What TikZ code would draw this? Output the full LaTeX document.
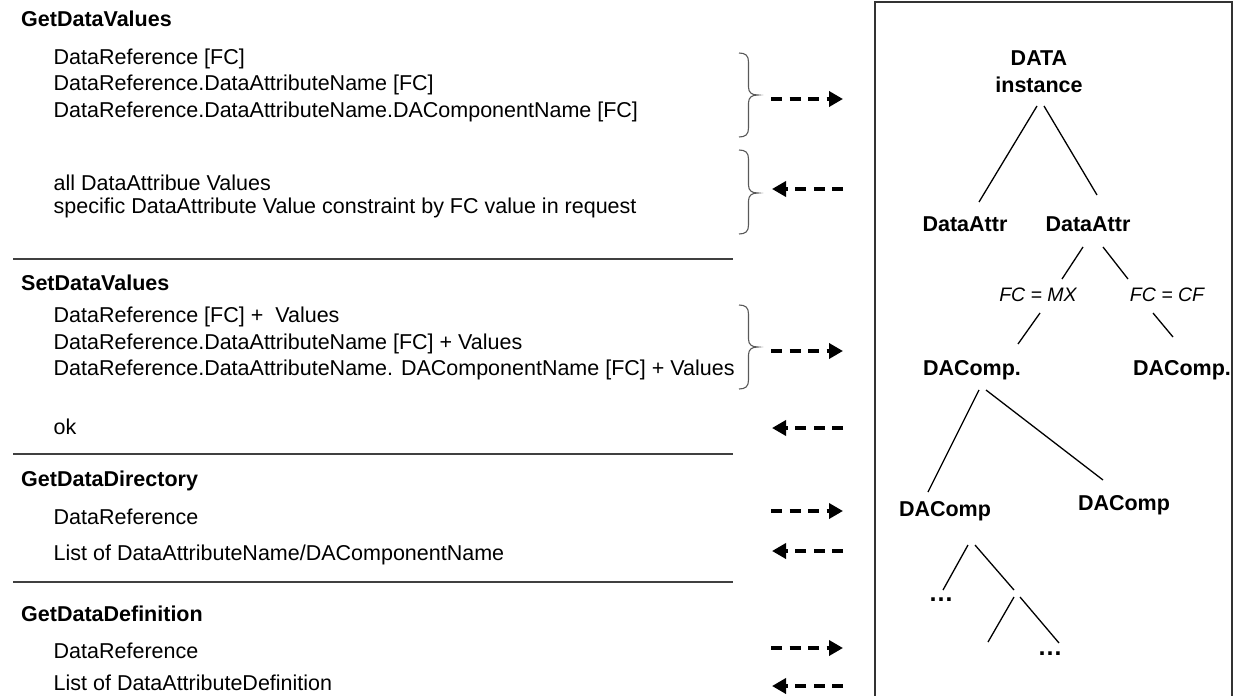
\documentclass[tikz,border=0pt]{standalone}
\usepackage{fontspec}
\setmainfont{Liberation Sans}
\usetikzlibrary{arrows.meta}

% curly brace opening to the left, tip pointing right: #1 top, #2 tip, #3 bottom
\newcommand\servicebrace[3]{%
  \draw[curly] (739,#1) .. controls (745.5,#1) and (748.5,{#1+2.5}) .. (748.5,{#1+9})
    -- (748.5,{#2-8}) .. controls (748.5,{#2-2}) and (752,#2) .. (758,#2)
    .. controls (752,#2) and (748.5,{#2+2}) .. (748.5,{#2+8})
    -- (748.5,{#3-9}) .. controls (748.5,{#3-2.5}) and (745.5,#3) .. (739,#3);}

\begin{document}
\begin{tikzpicture}[x=1pt,y=-1pt,
  txt/.style={anchor=base west, inner sep=0pt, font=\fontsize{21.5}{26.7}\selectfont},
  head/.style={anchor=base west, inner sep=0pt, font=\fontsize{21.5}{26.7}\selectfont\bfseries},
  tnode/.style={anchor=base, inner sep=0pt, font=\fontsize{21.5}{27.5}\selectfont\bfseries},
  fclabel/.style={anchor=base, inner sep=0pt, font=\fontsize{19.5}{24}\selectfont\itshape},
  dots/.style={anchor=base, inner sep=0pt, font=\fontsize{25}{26}\selectfont\bfseries},
  treeline/.style={line width=1.3pt, draw=black},
  sepline/.style={line width=1.3pt, draw=black!75},
  curly/.style={line width=1.1pt, draw=black!65},
  msg/.style={line width=3.6pt, dash pattern=on 11pt off 7.5pt, -{Triangle[length=14pt,width=15pt]}},
  panel/.style={line width=1.8pt, draw=black!80}
]
\useasboundingbox (0,0) rectangle (1235,696);

% ---------- service list ----------
\node[head] (gdv)  at (21,26.5)  {GetDataValues};
\node[txt]  (gdv1) at (53.5,64)    {DataReference [FC]};
\node[txt]  (gdv2) at (53.5,90.7)  {DataReference.DataAttributeName [FC]};
\node[txt]  (gdv3) at (53.5,117.3) {DataReference.DataAttributeName.DAComponentName [FC]};
\node[txt]  (gdv4) at (53.5,190.5) {all DataAttribue Values};
\node[txt]  (gdv5) at (53.5,213.5) {specific DataAttribute Value constraint by FC value in request};

\node[head] (sdv)  at (21,290)   {SetDataValues};
\node[txt]  (sdv1) at (53.5,322.5) {DataReference [FC] +\ \ Values};
\node[txt]  (sdv2) at (53.5,349)   {DataReference.DataAttributeName [FC] + Values};
\node[txt]  (sdv3) at (53.5,375.7) {DataReference.DataAttributeName. DAComponentName [FC] + Values};
\node[txt]  (sdv4) at (53.5,434)   {ok};

\node[head] (gdd)  at (21,486.7) {GetDataDirectory};
\node[txt]  (gdd1) at (53.5,524)   {DataReference};
\node[txt]  (gdd2) at (53.5,560.7) {List of DataAttributeName/DAComponentName};

\node[head] (gdf)  at (21,621.7) {GetDataDefinition};
\node[txt]  (gdf1) at (53.5,658)   {DataReference};
\node[txt]  (gdf2) at (53.5,690.7) {List of DataAttributeDefinition};

% separators between services
\draw[sepline] (13,259) -- (733,259);
\draw[sepline] (13,454) -- (733,454);
\draw[sepline] (13,582) -- (733,582);

% braces grouping the parameter lines
\servicebrace{53}{95}{137}
\servicebrace{150}{193}{234}
\servicebrace{305}{347}{389}

% request / response arrows
\coordinate (r1a) at (771,99);  \coordinate (r1b) at (843,99);
\coordinate (r2a) at (843,189); \coordinate (r2b) at (772,189);
\coordinate (r3a) at (771,351); \coordinate (r3b) at (843,351);
\coordinate (r4a) at (843,428); \coordinate (r4b) at (772,428);
\coordinate (r5a) at (771,511); \coordinate (r5b) at (843,511);
\coordinate (r6a) at (843,551); \coordinate (r6b) at (772,551);
\coordinate (r7a) at (771,648); \coordinate (r7b) at (843,648);
\coordinate (r8a) at (843,686); \coordinate (r8b) at (772,686);
\foreach \i in {1,...,8} \draw[msg] (r\i a) -- (r\i b);

% ---------- data model panel ----------
\draw[panel] (875,2) rectangle (1232,700);

\node[tnode, align=center, anchor=south] (data) at (1039,93) {DATA\\instance};
\node[tnode] (attrL) at (965,231.7)  {DataAttr};
\node[tnode] (attrR) at (1088,231.7) {DataAttr};
\node[fclabel] (fcMX) at (1038,301.7) {FC = MX};
\node[fclabel] (fcCF) at (1167,301.7) {FC = CF};
\node[tnode] (compL) at (972,375)  {DAComp.};
\node[tnode] (compR) at (1182,375) {DAComp.};
\node[tnode] (dcL) at (945,516)    {DAComp};
\node[tnode] (dcR) at (1124,510.7) {DAComp};
\node[dots] (dotsL) at (941,601) {\symbol{"2026}};
\node[dots] (dotsR) at (1050,655) {\symbol{"2026}};
\coordinate (fork) at (1017,593.5);
\coordinate (leaf) at (988,642);

\draw[treeline] ([shift={(-2,13)}]data.south) -- ([shift={(14,-29.7)}]attrL.base);
\draw[treeline] ([shift={(5,13)}]data.south) -- ([shift={(9,-36.7)}]attrR.base);
\draw[treeline] ([shift={(-5,15.3)}]attrR.base) -- ([shift={(24,-22.7)}]fcMX.base);
\draw[treeline] ([shift={(15,15.3)}]attrR.base) -- ([shift={(-39,-22.7)}]fcCF.base);
\draw[treeline] ([shift={(2,11.3)}]fcMX.base) -- ([shift={(46,-31)}]compL.base);
\draw[treeline] ([shift={(-14,11.3)}]fcCF.base) -- ([shift={(-9,-38)}]compR.base);
\draw[treeline] ([shift={(7,15)}]compL.base) -- ([shift={(-17,-24)}]dcL.base);
\draw[treeline] ([shift={(14,15)}]compL.base) -- ([shift={(-21,-30.7)}]dcR.base);
\draw[treeline] ([shift={(23,29)}]dcL.base) -- ([shift={(2,-11)}]dotsL.base);
\draw[treeline] ([shift={(30,29)}]dcL.base) -- ([shift={(-3,-3.5)}]fork);
\draw[treeline] ([shift={(-3,3.5)}]fork) -- (leaf);
\draw[treeline] ([shift={(3,3.5)}]fork) -- ([shift={(9,-12)}]dotsR.base);
\end{tikzpicture}
\end{document}
